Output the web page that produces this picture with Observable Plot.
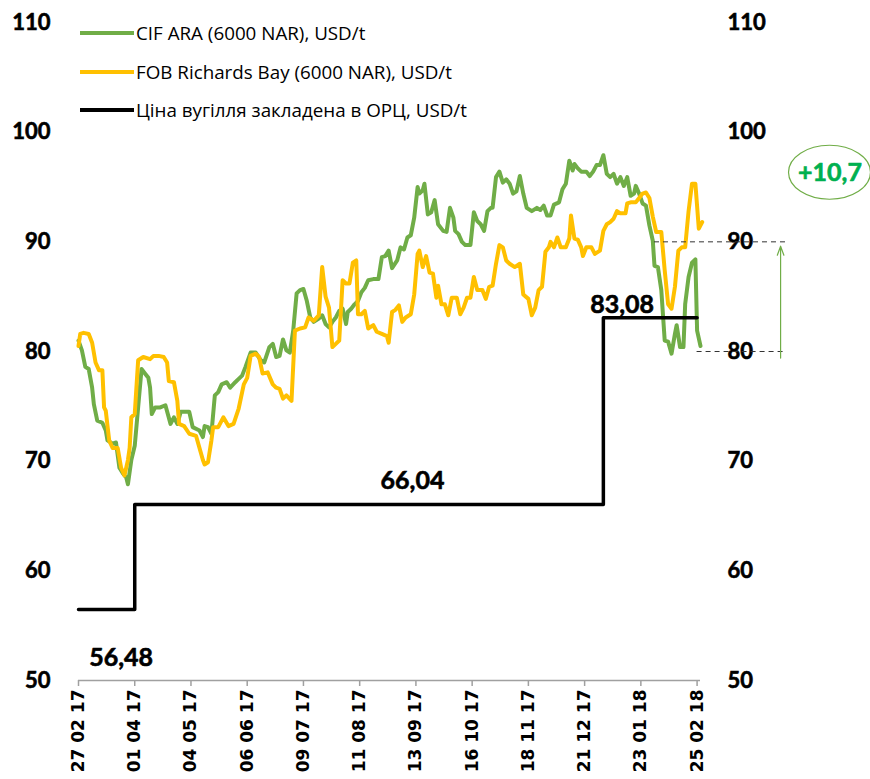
<!DOCTYPE html>
<html><head><meta charset="utf-8">
<script src="https://cdn.jsdelivr.net/npm/d3@7"></script>
<script src="https://cdn.jsdelivr.net/npm/@observablehq/plot@0.6"></script>
<style>
body{margin:0;background:#fff;}
#wrap{position:relative;width:870px;height:779px;overflow:hidden;background:#fff;}
.legend{position:absolute;left:80px;top:0;font-family:"Open Sans",sans-serif;font-size:18.8px;color:#000;}
.item{position:absolute;left:0;height:24px;display:flex;align-items:center;white-space:nowrap;}
.swatch{width:54px;height:4px;margin-right:2px;}
</style></head><body><div id="wrap"></div>
<script>
// ---- data ----
const startDate = "2017-02-27";
// CIF ARA: day offsets from start, and values (USD/t)
const cifDays = [0,2,4,6,8,9,11,14,16,17,20,22,24,26,28,29,31,33,35,37,39,41,42,43,45,48,51,54,56,58,60,65,67,71,73,74,76,78,80,82,84,87,89,92,94,96,98,101,104,107,109,112,114,116,118,120,122,124,126,128,130,132,134,136,138,141,143,145,147,149,151,153,155,157,158,160,162,164,166,168,170,173,176,178,180,182,184,187,189,191,193,195,197,199,200,202,203,205,207,209,211,214,216,218,220,221,223,225,227,230,232,234,236,238,240,242,243,245,247,249,251,253,255,257,259,261,263,266,269,271,273,275,277,279,282,284,286,288,290,291,293,295,298,300,302,304,306,308,310,312,314,316,318,320,322,324,326,327,329,331,333,335,337,338,340,342,344,346,348,350,351,353,355,356,358,360,362,363,365];
const cifValues = [81.0,80.1,78.6,78.4,76.7,75.2,73.7,73.5,72.8,71.9,71.6,71.7,69.4,68.9,68.5,67.9,70.1,71.4,74.9,78.4,78.0,77.6,76.7,74.3,74.9,74.9,75.1,73.4,74.0,73.4,74.5,74.5,73.1,72.8,72.2,73.2,73.1,72.5,76.0,76.3,77.0,77.2,76.7,77.2,77.5,77.8,78.6,79.9,79.9,79.2,79.0,80.4,80.7,79.5,79.6,81.1,80.1,79.9,81.9,85.3,85.6,85.7,84.6,83.1,82.7,83.0,83.3,82.5,82.2,82.7,83.1,83.7,83.9,82.5,83.6,83.9,84.3,84.6,85.4,85.8,86.5,86.6,86.6,88.6,88.7,89.2,87.6,88.3,89.5,89.3,90.4,90.6,92.2,95.0,94.4,94.7,95.3,92.5,92.7,93.8,91.6,91.0,90.9,93.1,92.2,91.0,90.7,90.0,89.7,89.7,92.7,91.9,91.6,91.0,92.8,93.1,93.1,95.9,96.4,95.4,95.7,95.3,94.4,94.6,96.0,94.4,93.1,92.8,93.1,92.9,93.3,92.4,92.4,93.4,93.6,94.8,95.3,97.4,96.5,97.1,96.7,96.4,96.4,96.0,96.4,97.0,97.0,97.9,96.2,95.9,96.2,95.3,95.9,95.1,95.9,94.2,94.4,95.1,94.4,93.5,93.3,91.5,90.1,87.8,87.7,85.6,81.0,80.9,79.8,81.6,82.4,80.4,80.4,84.3,86.8,88.1,88.4,81.9,80.5];
// FOB Richards Bay
const fobDays = [0,1,3,6,8,10,12,14,15,16,18,20,23,25,27,29,30,31,33,35,38,42,44,47,50,52,53,56,58,59,62,65,69,71,73,74,76,78,79,82,85,88,91,94,97,99,101,104,106,108,111,114,116,118,120,122,125,127,130,133,135,138,141,143,145,147,149,151,153,155,157,159,161,163,164,166,168,170,173,175,178,181,182,184,186,188,190,192,195,197,199,200,202,204,206,208,210,211,213,215,217,219,222,224,226,228,230,232,234,237,239,241,243,245,247,249,251,253,256,259,261,264,266,268,270,272,274,276,277,279,281,283,286,288,289,291,293,295,296,298,301,303,306,308,310,312,314,316,318,321,322,324,327,329,331,333,335,337,339,342,344,346,348,350,352,354,356,358,360,362,364,366];
const fobValues = [80.5,81.6,81.7,81.6,80.8,79.0,78.3,78.3,74.9,74.6,71.9,71.2,71.2,69.4,68.7,70.1,71.2,74.0,74.3,79.2,79.5,79.3,79.6,79.6,79.5,79.0,77.3,77.2,75.5,73.4,73.2,72.5,72.3,71.2,70.1,69.7,69.9,71.9,73.1,73.1,74.0,73.2,73.4,74.8,77.0,77.6,79.6,79.8,79.5,78.0,78.1,77.0,76.7,76.6,75.7,76.0,75.5,81.9,82.1,82.2,83.1,82.8,83.3,87.7,85.0,84.0,80.4,80.7,81.0,86.5,86.2,86.2,88.1,88.3,83.4,83.4,83.7,82.1,82.4,81.8,81.6,81.4,80.8,83.6,83.8,84.2,82.7,83.1,83.4,85.2,88.9,89.2,87.7,88.7,87.2,87.1,84.9,86.0,84.3,84.3,83.3,84.9,84.9,83.4,84.0,84.9,84.9,86.8,85.6,85.6,84.8,85.9,86.0,88.0,89.7,89.5,88.3,88.0,87.7,88.0,85.2,84.8,83.3,84.0,85.6,85.9,89.1,89.5,90.0,89.5,90.4,89.5,89.5,90.3,92.4,90.3,90.2,89.5,88.7,89.5,89.5,88.9,89.2,91.0,91.6,91.8,92.1,92.8,92.6,92.6,93.5,93.6,93.6,94.0,94.4,94.5,94.0,92.3,90.9,90.9,87.4,84.3,83.9,85.9,89.2,89.5,89.5,92.8,95.3,95.3,91.2,91.8];
// Coal price in tariff (step)
const opcDates = ["2017-02-27","2017-04-01","2018-01-01","2018-02-25"];
const opcValues = [56.48, 66.04, 83.08, 83.08];
const opcLabels = ["56,48","66,04","83,08"];
const opcLabelDates = ["2017-03-24","2017-09-11","2018-01-12"];
// axes
const yTicks = [50,60,70,80,90,100,110];
const xTickDates = ["2017-02-27","2017-04-01","2017-05-04","2017-06-06","2017-07-09","2017-08-11","2017-09-13","2017-10-16","2017-11-18","2017-12-21","2018-01-23","2018-02-25"];
// annotation
const dashLevels = [90, 80];
const dashFrom = ["2018-01-31","2018-02-25"];
const dashTo = ["2018-04-20","2018-04-18"];
const arrowDate = "2018-04-15";
const arrowFrom = 79.4, arrowTo = 89.6;
const badgeText = "+10,7";
const badgeDate = "2018-05-14";
const badgeValue = 96.3;

const seriesNames = ["CIF ARA (6000 NAR), USD/t","FOB Richards Bay (6000 NAR), USD/t","Ціна вугілля закладена в ОРЦ, USD/t"];
const seriesColors = ["#70ad47","#ffc000","#000000"];

// ---- build ----
const parse = d3.utcParse("%Y-%m-%d");
const start = parse(startDate);
const cif = cifDays.map((d,i)=>({date: d3.utcDay.offset(start,d), value: cifValues[i]}));
const fob = fobDays.map((d,i)=>({date: d3.utcDay.offset(start,d), value: fobValues[i]}));
const opc = opcDates.map((d,i)=>({date: parse(d), value: opcValues[i]}));
const labels = opcLabels.map((t,i)=>({text:t, date: parse(opcLabelDates[i]), value: opcValues[i]}));
const dashes = dashLevels.map((v,i)=>({value:v, from: parse(dashFrom[i]), to: parse(dashTo[i])}));
const numFont = "Lato, 'Open Sans', sans-serif";

const chart = Plot.plot({
  width: 870, height: 779,
  marginLeft: 78, marginRight: 170, marginTop: 22, marginBottom: 99,
  x: {type: "utc", domain: [start, d3.utcDay.offset(start, 365)]},
  y: {domain: [50, 110]},
  style: {background: "#fff", overflow: "visible", fontFamily: numFont},
  marks: [
    Plot.axisY({ticks: yTicks, anchor: "left", tickSize: 0, tickPadding: 28, fontSize: 22, fontWeight: "bold", fill: "#000", label: null, fontFamily: numFont}),
    Plot.axisY({ticks: yTicks, anchor: "right", tickSize: 0, tickPadding: 27, fontSize: 22, fontWeight: "bold", fill: "#000", label: null, fontFamily: numFont}),
    Plot.ruleY([50], {stroke: "#a0a0a0", strokeWidth: 1.5}),
    Plot.axisX({ticks: xTickDates.map(parse), tickFormat: d3.utcFormat("%d %m %y"), tickRotate: -90, tickSize: 6, tickPadding: 3, stroke: "#a0a0a0", strokeWidth: 1.5, fill: "#000", fontSize: 17, fontWeight: "bold", fontFamily: "DejaVu Sans", label: null}),
    Plot.line(cif, {x: "date", y: "value", stroke: seriesColors[0], strokeWidth: 4}),
    Plot.line(fob, {x: "date", y: "value", stroke: seriesColors[1], strokeWidth: 4}),
    Plot.line(opc, {x: "date", y: "value", curve: "step-after", stroke: seriesColors[2], strokeWidth: 3.5}),
    Plot.text(labels.slice(0,1), {x: "date", y: "value", text: "text", dy: 49, fontSize: 25, fontWeight: "bold", fill: "#000", stroke: "#000", strokeWidth: 0.6}),
    Plot.text(labels.slice(1,2), {x: "date", y: "value", text: "text", dy: -24, fontSize: 25, fontWeight: "bold", fill: "#000", stroke: "#000", strokeWidth: 0.6}),
    Plot.text(labels.slice(2,3), {x: "date", y: "value", text: "text", dy: -13, fontSize: 25, fontWeight: "bold", fill: "#000", stroke: "#000", strokeWidth: 0.6}),
    Plot.ruleY(dashes, {y: "value", x1: "from", x2: "to", stroke: "#333", strokeWidth: 1, strokeDasharray: "5,4"}),
    Plot.arrow([0], {x1: () => parse(arrowDate), x2: () => parse(arrowDate), y1: () => arrowFrom, y2: () => arrowTo, stroke: "#70ad47", strokeWidth: 1.2, headLength: 12, headAngle: 40}),
    (index, scales) => {
      const el = document.createElementNS("http://www.w3.org/2000/svg", "ellipse");
      el.setAttribute("cx", scales.x(parse(badgeDate)));
      el.setAttribute("cy", scales.y(badgeValue));
      el.setAttribute("rx", 41);
      el.setAttribute("ry", 27);
      el.setAttribute("fill", "#fff");
      el.setAttribute("stroke", "#70ad47");
      el.setAttribute("stroke-width", 1.2);
      return el;
    },
    Plot.text([badgeText], {x: () => parse(badgeDate), y: () => badgeValue, text: d => d, fontSize: 25, fontWeight: "bold", fill: "#00b050", stroke: "#00b050", strokeWidth: 0.6})
  ]
});

// slightly heavier bold for y-axis numbers
d3.select(chart).selectAll("g[aria-label='y-axis tick label'] text")
  .attr("stroke", "#000").attr("stroke-width", 0.6);

const wrap = document.getElementById("wrap");
wrap.appendChild(chart);
const legend = document.createElement("div");
legend.className = "legend";
const centers = [33, 72, 110];
seriesNames.forEach((name, i) => {
  const item = document.createElement("div");
  item.className = "item";
  item.style.top = (centers[i] - 12) + "px";
  const sw = document.createElement("span");
  sw.className = "swatch";
  sw.style.background = seriesColors[i];
  const tx = document.createElement("span");
  tx.textContent = name;
  item.appendChild(sw); item.appendChild(tx);
  legend.appendChild(item);
});
wrap.appendChild(legend);
</script>
</body></html>
